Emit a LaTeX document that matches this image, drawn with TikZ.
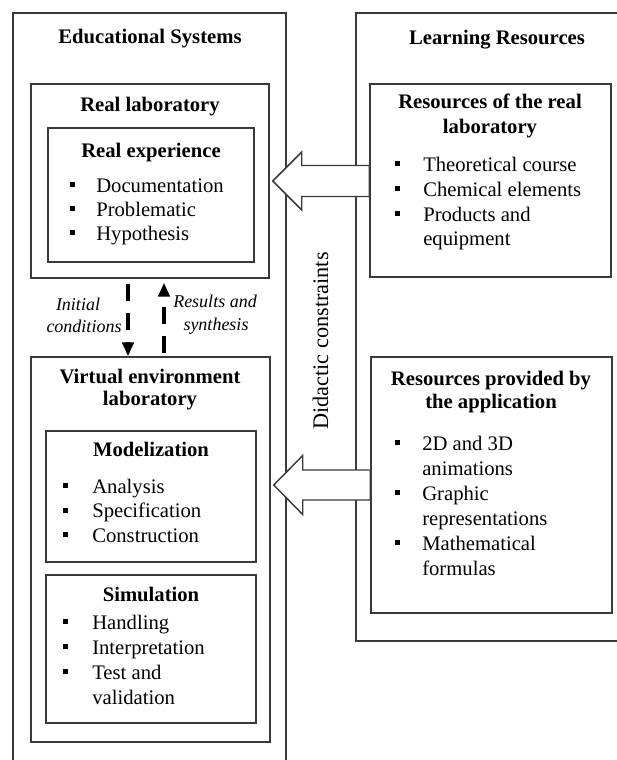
\documentclass[tikz,border=0pt]{standalone}
\usepackage{fontspec}
\setmainfont{Liberation Serif}
\usetikzlibrary{arrows.meta,calc,fit}
\definecolor{ln}{HTML}{3A3A3A}
% square bullet hanging to the left of an item, #1 = gap before the text
\newcommand{\sq}[1]{\llap{\rule[3.4pt]{3.8pt}{3.8pt}\hspace{#1}}}
\tikzset{
  frame/.style={draw=ln, line width=1.1pt},
  box/.style={frame, inner sep=0pt},
  ttl/.style={inner sep=0pt, anchor=base, font=\fontsize{15.5}{18}\selectfont\bfseries},
  itm/.style={inner sep=0pt, anchor=base west, font=\fontsize{15.5}{18}\selectfont},
  note/.style={inner sep=0pt, anchor=base, font=\fontsize{13.5}{16}\selectfont\itshape},
  hollow/.style={draw=ln, line width=1.1pt, fill=white, line join=miter},
  flow/.style={line width=2.5pt, dash pattern=on 13pt off 9pt,
    -{Triangle[width=8.5pt,length=10.5pt]}},
}
\begin{document}
\begin{tikzpicture}[x=0.75pt,y=-0.75pt]
\useasboundingbox (0,0) rectangle (617,760);

% open outer frames
\draw[frame] (13,770) -- (13,13) -- (286,13) -- (286,770);
\draw[frame] (630,13) -- (356,13) -- (356,641) -- (630,641);

\node[ttl] (es) at (150,43) {Educational Systems};
\node[ttl] (lr) at (497,44) {Learning Resources};

% boxes
\node[box, fit={(31,84) (269,278)}] (rlab) {};
\node[box, fit={(48,128) (254,262)}] (rexp) {};
\node[box, fit={(31,357) (270,742)}] (vlab) {};
\node[box, fit={(46,431) (256,562)}] (model) {};
\node[box, fit={(46,575) (256,723)}] (simul) {};
\node[box, fit={(370,84) (611,277)}] (rres) {};
\node[box, fit={(371,357) (612,613)}] (ares) {};

% real laboratory
\node[ttl] (rlab-t) at (150,111) {Real laboratory};
\node[ttl] (rexp-t) at (151,157) {Real experience};
\foreach \t [count=\i] in {Documentation, Problematic, Hypothesis}
  \node[itm] (rexp-\i) at (96,{192+24*(\i-1)}) {\sq{15.75pt}\t};

% virtual environment laboratory
\node[ttl] (vlab-t1) at (150,383) {Virtual environment};
\node[ttl] (vlab-t2) at (150,405) {laboratory};
\node[ttl] (model-t) at (151,456) {Modelization};
\foreach \t [count=\i] in {Analysis, Specification, Construction}
  \node[itm] (model-\i) at (92,{493+24.5*(\i-1)}) {\sq{18pt}\t};
\node[ttl] (simul-t) at (151,601) {Simulation};
\node[itm] (simul-1) at (92,629) {\sq{18pt}Handling};
\node[itm] (simul-2) at (92,654) {\sq{18pt}Interpretation};
\node[itm] (simul-3) at (92,679) {\sq{18pt}Test and};
\node[itm] (simul-4) at (92,704) {validation};

% resources of the real laboratory
\node[ttl] (rres-t1) at (490,108) {Resources of the real};
\node[ttl] (rres-t2) at (490,133) {laboratory};
\node[itm] (rres-1) at (423,171) {\sq{17.25pt}Theoretical course};
\node[itm] (rres-2) at (423,196) {\sq{17.25pt}Chemical elements};
\node[itm] (rres-3) at (423,221) {\sq{17.25pt}Products and};
\node[itm] (rres-4) at (423,245) {equipment};

% resources provided by the application
\node[ttl] (ares-t1) at (491,385) {Resources provided by};
\node[ttl] (ares-t2) at (491,408) {the application};
\node[itm] (ares-1) at (422,450) {\sq{16.5pt}2D and 3D};
\node[itm] (ares-2) at (422,475) {animations};
\node[itm] (ares-3) at (422,500) {\sq{16.5pt}Graphic};
\node[itm] (ares-4) at (422,525) {representations};
\node[itm] (ares-5) at (422,550) {\sq{16.5pt}Mathematical};
\node[itm] (ares-6) at (422,575) {formulas};

% vertical caption between the columns
\node[inner sep=0pt, anchor=base, rotate=90, font=\fontsize{16.7}{19}\selectfont]
  (dc) at (328,341) {Didactic constraints};

% hollow arrows from the resources to the laboratories
\coordinate (t1) at ($(rlab.east)+(3,0)$);
\coordinate (b1) at (rres.west |- t1);
\filldraw[hollow] ($(b1)+(0,-15.5)$) -- ($(t1)+(29,-15.5)$) -- ($(t1)+(29,-29)$)
  -- (t1) -- ($(t1)+(29,29)$) -- ($(t1)+(29,15.5)$) -- ($(b1)+(0,15.5)$) -- cycle;
\coordinate (t2) at ($(vlab.east |- ares.west)+(3,0)$);
\coordinate (b2) at (ares.west |- t2);
\filldraw[hollow] ($(b2)+(0,-15)$) -- ($(t2)+(29,-15)$) -- ($(t2)+(29,-29.5)$)
  -- (t2) -- ($(t2)+(29,29.5)$) -- ($(t2)+(29,15)$) -- ($(b2)+(0,15)$) -- cycle;

% dashed links between the two laboratories
\coordinate (dnx) at (128,0);
\coordinate (upx) at (164,0);
\draw[flow, dash phase=18.25pt] (rlab.south -| dnx) -- (vlab.north -| dnx);
\draw[flow, dash phase=19.75pt, shorten >=3pt] (vlab.north -| upx) -- (rlab.south -| upx);
\node[note] (ic-1) at (78,310) {Initial};
\node[note] (ic-2) at (84,332) {conditions};
\node[note] (rs-1) at (215,307) {Results and};
\node[note] (rs-2) at (216,330) {synthesis};
\end{tikzpicture}
\end{document}
